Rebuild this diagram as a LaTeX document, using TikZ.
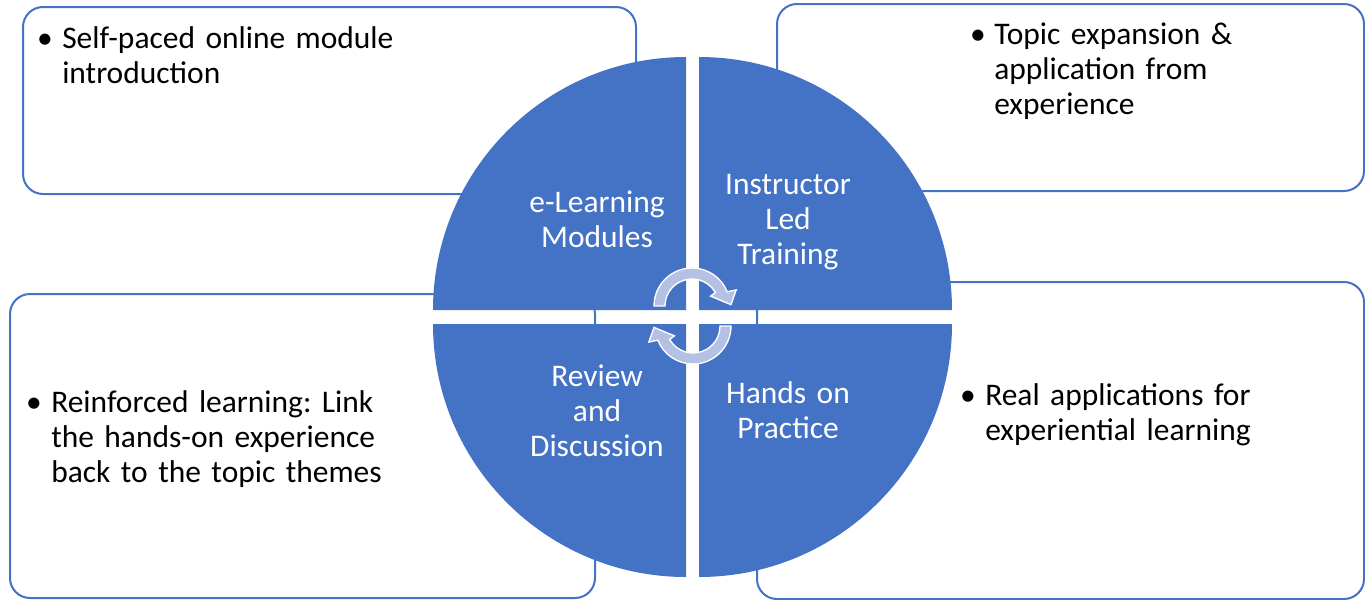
\documentclass[tikz,border=0pt]{standalone}
\usepackage{fontspec}
\setmainfont{Carlito}
\frenchspacing
\definecolor{quadblue}{RGB}{68,114,196}
\definecolor{arrowgray}{RGB}{180,193,228}
\tikzset{
	quad/.style={fill=quadblue},
	infobox/.style={draw=quadblue,line width=1.5pt,rounded corners=15pt},
	txt/.style={anchor=base west,inner sep=0pt,text width=330pt,align=left,font=\fontsize{23.6}{26.25}\selectfont},
	bul/.style={anchor=base,inner sep=0pt,font=\fontsize{23.6}{26.25}\selectfont},
	lab/.style={anchor=base,inner sep=0pt,text width=200pt,align=center,text=white,font=\fontsize{23.6}{26.25}\selectfont},
	cyc/.style={fill=arrowgray,draw=white,line width=1pt}
}
\begin{document}
\begin{tikzpicture}[x=0.75pt,y=-0.75pt]
		\useasboundingbox (0,0) rectangle (1365,600);
		% boxes behind the circle
		\draw [infobox] (23,7) rectangle (636,194);
		\draw [infobox] (777,4) rectangle (1364,191);
		\draw [infobox] (10,294) rectangle (595,598);
		\draw [infobox] (757,282) rectangle (1364,599);
		% quadrants
		\begin{scope}[shift={(686,310)}]
		\fill [quad] (0,0)--(180:253)arc[start angle=180,end angle=270,radius=253]--cycle;
		\end{scope}
		\begin{scope}[shift={(699,310)}]
		\fill [quad] (0,0)--(270:253)arc[start angle=270,end angle=360,radius=253]--cycle;
		\end{scope}
		\begin{scope}[shift={(686,324)}]
		\fill [quad] (0,0)--(90:253)arc[start angle=90,end angle=180,radius=253]--cycle;
		\end{scope}
		\begin{scope}[shift={(699,324)}]
		\fill [quad] (0,0)--(0:253)arc[start angle=0,end angle=90,radius=253]--cycle;
		\end{scope}
		% cycle arrows
		\begin{scope}[shift={(692,306)}]
		\draw [cyc] (180:38)arc[start angle=180,end angle=338,radius=38]--(340:47)--(358:39)--(332:21)--(330:27)arc[start angle=330,end angle=180,radius=27]--cycle;
		\end{scope}
		\begin{scope}[shift={(693,326)},rotate=180]
		\draw [cyc] (180:38)arc[start angle=180,end angle=338,radius=38]--(340:47)--(358:39)--(332:21)--(330:27)arc[start angle=330,end angle=180,radius=27]--cycle;
		\end{scope}
		% labels in the circle
		\node [lab] (elearn) at (597,212) {e-Learning\\Modules};
		\node [lab] (instr) at (788,194) {Instructor\\Led\\Training};
		\node [lab] (review) at (597,386) {Review\\and\\Discussion};
		\node [lab] (hands) at (788,403) {Hands on\\Practice};
		% bullet texts
		\node [bul] (bulTL) at (45,48) {•};
		\node [txt] (txtTL) at (62,48) {Self-paced online module\\introduction};
		\node [bul] (bulTR) at (978,44) {•};
		\node [txt] (txtTR) at (994,44) {Topic expansion \&\\application from\\experience};
		\node [bul] (bulBL) at (34,412) {•};
		\node [txt] (txtBL) at (51,412) {Reinforced learning: Link\\the hands-on experience\\back to the topic themes};
		\node [bul] (bulBR) at (968,405) {•};
		\node [txt] (txtBR) at (985,405) {Real applications for\\experiential learning};
		\end{tikzpicture}
\end{document}
